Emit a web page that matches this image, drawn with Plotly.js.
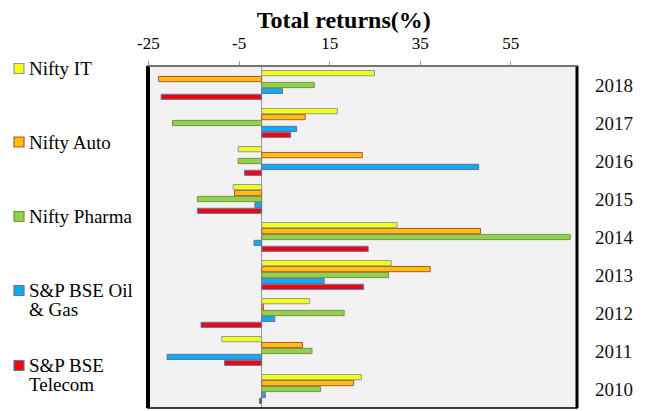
<!DOCTYPE html>
<html><head><meta charset="utf-8">
<script src="https://cdn.plot.ly/plotly-3.0.1.min.js"></script>
<style>html,body{margin:0;padding:0;background:#fff}</style>
</head><body><div id="chart" style="width:651px;height:411px"></div>
<script>
const years = ['2010','2011','2012','2013','2014','2015','2016','2017','2018'];
const legendLabels = [['Nifty IT'],['Nifty Auto'],['Nifty Pharma'],['S&P BSE Oil','& Gas'],['S&P BSE','Telecom']];
const niftyIT     = [22.0, -8.8, 10.6, 28.6, 29.9, -6.3, -5.2, 16.7, 24.9];
const niftyAuto   = [20.3,  9.0,  0.4, 37.2, 48.3, -6.0, 22.2,  9.6, -22.8];
const niftyPharma = [13.0, 11.1, 18.2, 28.0, 68.1, -14.2, -5.2, -19.7, 11.6];
const oilGas      = [ 0.8, -20.9, 2.9, 13.8, -1.7, -1.5, 47.9,  7.7,  4.6];
const telecom     = [-0.5, -8.2, -13.4, 22.5, 23.5, -14.2, -3.8, 6.4, -22.2];
const xTicks = [-25, -5, 15, 35, 55];

const fills = ['#ffff00','#ffc000','#92d050','#00b0f0','#ff0000'];
const edges = ['#7f9db9','#b0504d','#77933c','#8064a2','#4f81bd'];
const vals = [niftyIT, niftyAuto, niftyPharma, oilGas, telecom];

const traces = [];
for (let i = 4; i >= 0; i--) {
  traces.push({
    type:'bar', orientation:'h', name: legendLabels[i].join(' '),
    x: vals[i], y: years,
    marker:{color: fills[i], line:{color: edges[i], width:1}},
    hoverinfo:'x+name', showlegend:false
  });
}
const serif = 'Liberation Serif, Times New Roman, serif';
const L = 148, R = 577, T = 66, B = 408;
const px = v => (v - L) / (R - L);
const py = v => 1 - (v - T) / (B - T);

// legend drawn as shapes + annotations (positions in px)
const legendY = [68.5, 142, 216.5, 290.5, 365.5];
const shapes = [
  {type:'rect', xref:'paper', yref:'paper', x0:0, x1:1, y0:0, y1:1, line:{color:'#000', width:1.5}},
  {type:'line', xref:'paper', yref:'paper', x0:0, x1:0, y0:0, y1:1, line:{color:'#000', width:4}},
  {type:'line', xref:'paper', yref:'paper', x0:1, x1:1, y0:0, y1:1, line:{color:'#000', width:3}},
  {type:'line', xref:'paper', yref:'paper', x0:0, x1:1, y0:1, y1:1, line:{color:'#888', width:1.5}}
];
const annotations = [];
legendLabels.forEach((lines, i) => {
  const cy = legendY[i];
  shapes.push({type:'rect', xref:'paper', yref:'paper', x0:px(14), x1:px(24), y0:py(cy+5), y1:py(cy-5),
               fillcolor: fills[i], line:{color: edges[i], width:1.2}});
  lines.forEach((t, j) => {
    annotations.push({xref:'paper', yref:'paper', x:px(27), y:py(cy + j*18.5), xanchor:'left', yanchor:'middle',
      text:t, showarrow:false, font:{family:serif, size:19, color:'#000'}});
  });
});

const layout = {
  width:651, height:411,
  margin:{l:L, r:651-R, t:T, b:411-B},
  paper_bgcolor:'#ffffff', plot_bgcolor:'#f2f2f2',
  barmode:'group', bargap:0.22, bargroupgap:0.12,
  title:{text:'<b>Total returns(%)</b>', font:{family:serif, size:24, color:'#000'},
         x:0.528, xref:'container', xanchor:'center', y:0.953, yref:'container', yanchor:'middle'},
  xaxis:{side:'top', range:[-25.1, 69.6], tickvals:xTicks, ticktext:xTicks.map(String),
         ticks:'outside', ticklen:4, tickcolor:'#999', showgrid:false,
         zeroline:true, zerolinecolor:'#999', zerolinewidth:1.5,
         tickfont:{family:serif, size:17, color:'#000'}, ticklabelstandoff:5, fixedrange:true},
  yaxis:{side:'right', type:'category', categoryorder:'array', categoryarray:years,
         ticks:'', showgrid:false, zeroline:false,
         tickfont:{family:serif, size:19, color:'#111'}, ticklabelstandoff:17},
  showlegend:false,
  shapes: shapes,
  annotations: annotations
};
Plotly.newPlot('chart', traces, layout, {displayModeBar:false, staticPlot:true});
</script></body></html>
